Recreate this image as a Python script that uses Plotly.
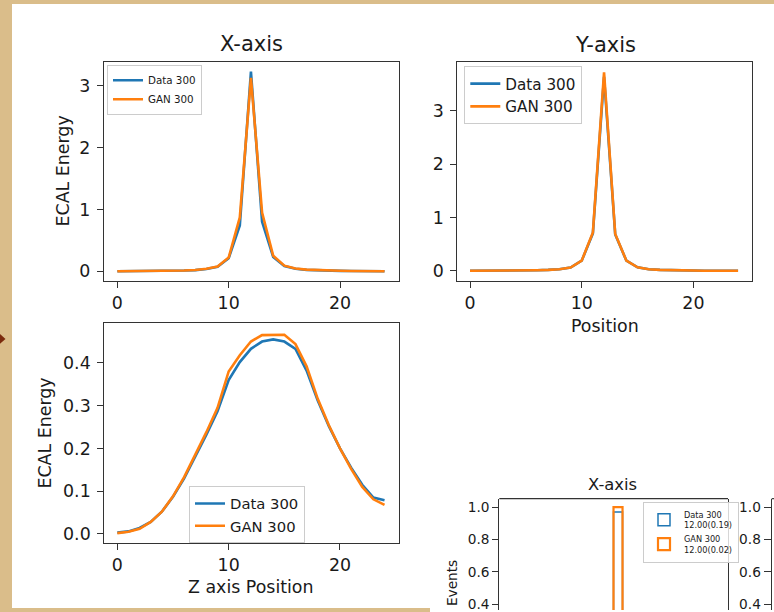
import plotly.graph_objects as go

# ---------------- data ----------------
positions = list(range(25))

data_x = [0.0, 0.0, 0.0, 0.003, 0.005, 0.008, 0.012, 0.018, 0.035, 0.07, 0.21, 0.74,
          3.23, 0.80, 0.23, 0.085, 0.04, 0.022, 0.014, 0.009, 0.006, 0.004, 0.002, 0.001, 0.0]
gan_x = [0.0, 0.0, 0.0, 0.003, 0.005, 0.008, 0.012, 0.02, 0.04, 0.075, 0.22, 0.87,
         3.13, 0.95, 0.25, 0.09, 0.045, 0.025, 0.016, 0.01, 0.007, 0.004, 0.002, 0.001, 0.0]

data_y = [0.0, 0.0, 0.0, 0.002, 0.004, 0.007, 0.011, 0.017, 0.03, 0.06, 0.19, 0.70,
          3.64, 0.68, 0.19, 0.065, 0.03, 0.017, 0.01, 0.006, 0.004, 0.002, 0.001, 0.0, 0.0]
gan_y = [0.0, 0.0, 0.0, 0.002, 0.004, 0.007, 0.011, 0.017, 0.03, 0.062, 0.19, 0.72,
         3.72, 0.69, 0.19, 0.066, 0.03, 0.017, 0.01, 0.006, 0.004, 0.002, 0.001, 0.0, 0.0]

data_z = [0.003, 0.006, 0.014, 0.028, 0.052, 0.087, 0.130, 0.180, 0.232, 0.287, 0.360,
          0.402, 0.433, 0.450, 0.455, 0.450, 0.433, 0.382, 0.312, 0.252, 0.200, 0.155,
          0.115, 0.085, 0.079]
gan_z = [0.002, 0.005, 0.012, 0.028, 0.052, 0.088, 0.133, 0.185, 0.238, 0.295, 0.380,
         0.418, 0.450, 0.465, 0.466, 0.466, 0.444, 0.392, 0.316, 0.254, 0.200, 0.152,
         0.110, 0.081, 0.068]

hist_pos = [12]
data_hist = [0.97]
gan_hist = [1.0]

series_names = ["Data 300", "GAN 300"]
hist_names = ["Data 300<br>12.00(0.19)", "GAN 300<br>12.00(0.02)"]

BLUE = "#1f77b4"
ORANGE = "#ff7f0e"
TAN = "rgb(218,189,138)"
FONT = "DejaVu Sans"
TXT = "#1a1a1a"
FRAME = "#333333"
W, H = 774, 612


def px(x):
    return x / W


def py(y):
    return 1 - y / H


fig = go.Figure()

# line panels
for (a, b, xa, ya, leg) in [(data_x, gan_x, "x", "y", "legend"),
                            (data_y, gan_y, "x2", "y2", "legend2"),
                            (data_z, gan_z, "x3", "y3", "legend3")]:
    fig.add_trace(go.Scatter(x=positions, y=a, mode="lines", name=series_names[0],
                             line=dict(color=BLUE, width=2.6), xaxis=xa, yaxis=ya,
                             legend=leg))
    fig.add_trace(go.Scatter(x=positions, y=b, mode="lines", name=series_names[1],
                             line=dict(color=ORANGE, width=2.6), xaxis=xa, yaxis=ya,
                             legend=leg))

# inset histogram
fig.add_trace(go.Bar(x=hist_pos, y=data_hist, width=1, name=hist_names[0],
                     marker=dict(color="rgba(0,0,0,0)", line=dict(color=BLUE, width=1.5)),
                     xaxis="x4", yaxis="y4", legend="legend4"))
fig.add_trace(go.Bar(x=hist_pos, y=gan_hist, width=1, name=hist_names[1],
                     marker=dict(color="rgba(0,0,0,0)", line=dict(color=ORANGE, width=2.2)),
                     xaxis="x4", yaxis="y4", legend="legend4"))

# cut-off neighbouring panel (its content lies outside the window) – empty placeholder
fig.add_trace(go.Scatter(x=[None], y=[None], mode="lines", showlegend=False,
                         xaxis="x5", yaxis="y5", hoverinfo="skip"))

axis_common = dict(showline=True, linecolor=FRAME, linewidth=1.2, mirror=True,
                   ticks="outside", ticklen=6, tickwidth=1.2, tickcolor=FRAME,
                   showgrid=False, zeroline=False,
                   tickfont=dict(family=FONT, size=17.4, color=TXT))
ystand = dict(ticklabelstandoff=3)

small_tick = dict(family=FONT, size=13.7, color=TXT)

layout = dict(
    width=W, height=H, margin=dict(l=0, r=0, t=0, b=0),
    paper_bgcolor=TAN, plot_bgcolor="white", showlegend=True, barmode="overlay",
    font=dict(family=FONT, color=TXT),
    xaxis=dict(domain=[px(104), px(399)], anchor="y", range=[-1.2, 25.3],
               tickvals=[0, 10, 20], **axis_common),
    yaxis=dict(domain=[py(282), py(62)], anchor="x", range=[-0.16, 3.39],
               tickvals=[0, 1, 2, 3], **axis_common, **ystand),
    xaxis2=dict(domain=[px(457.3), px(751.7)], anchor="y2", range=[-1.14, 25.22],
                tickvals=[0, 10, 20], **axis_common),
    yaxis2=dict(domain=[py(281.7), py(62)], anchor="x2", range=[-0.187, 3.92],
                tickvals=[0, 1, 2, 3], **axis_common, **ystand),
    xaxis3=dict(domain=[px(104.3), px(399)], anchor="y3", range=[-1.17, 25.3],
                tickvals=[0, 10, 20], **axis_common),
    yaxis3=dict(domain=[py(545), py(324.3)], anchor="x3", range=[-0.0217, 0.4928],
                tickvals=[0.0, 0.1, 0.2, 0.3, 0.4], tickformat=".1f", **axis_common, **ystand),
    xaxis4=dict(domain=[px(499.3), px(728)], anchor="y4", range=[-1.17, 24.2],
                visible=False),
    yaxis4=dict(domain=[0, py(500.3)], anchor="x4", range=[0.363, 1.052],
                tickvals=[0.4, 0.6, 0.8, 1.0], tickformat=".1f",
                ticklabeloverflow="allow",
                **{**axis_common, "tickfont": small_tick, "ticklen": 6}),
    xaxis5=dict(domain=[px(771.7), 1.0], anchor="y5", range=[0, 1], visible=False),
    yaxis5=dict(domain=[0, py(500.3)], anchor="x5", range=[0.363, 1.052],
                tickvals=[0.4, 0.6, 0.8, 1.0], tickformat=".1f",
                ticklabeloverflow="allow",
                showline=True, linecolor=FRAME, linewidth=1.2,
                ticks="outside", ticklen=7, tickwidth=1.2, tickcolor=FRAME,
                showgrid=False, zeroline=False, tickfont=small_tick),
)

leg_common = dict(bgcolor="rgba(255,255,255,0.8)", bordercolor="#cccccc", borderwidth=1,
                  xanchor="left", yanchor="top", tracegroupgap=0)
layout["legend"] = dict(x=px(107), y=py(65), font=dict(family=FONT, size=10.3, color=TXT),
                        **leg_common)
layout["legend2"] = dict(x=px(464.3), y=py(66.5), font=dict(family=FONT, size=15.2, color=TXT),
                         **leg_common)
layout["legend3"] = dict(x=px(189), y=py(488), font=dict(family=FONT, size=14.8, color=TXT),
                         **leg_common)
layout["legend4"] = dict(x=px(643), y=py(503.3), font=dict(family=FONT, size=8.2, color=TXT),
                         **leg_common)

fig.update_layout(**layout)

# white page area (single outline: main figure plus the overlapping second figure)
white_path = (f"M {px(12)} {py(4)} L 1 {py(4)} L 1 -0.01 L {px(430)} -0.01 "
              f"L {px(430)} {py(610)} L {px(12)} {py(610)} Z")
fig.add_shape(type="path", xref="paper", yref="paper", path=white_path,
              fillcolor="white", line=dict(width=0), layer="below")
fig.add_shape(type="path", xref="paper", yref="paper",
              path=f"M {px(0)} {py(335)} L {px(5.5)} {py(340)} L {px(0)} {py(345)} Z",
              fillcolor="#7a2a0c", line=dict(width=0), layer="below")

# top edges of the cut-off inset frames
for xr, yr in [("x4 domain", "y4 domain"), ("x5 domain", "y5 domain")]:
    fig.add_shape(type="line", xref=xr, yref=yr, x0=0, x1=1, y0=1, y1=1,
                  line=dict(color=FRAME, width=1.2))


def ann(text, x, y, size, angle=0):
    fig.add_annotation(text=text, x=px(x), y=py(y), xref="paper", yref="paper",
                       showarrow=False, xanchor="center", yanchor="middle",
                       textangle=angle, font=dict(family=FONT, size=size, color=TXT))


ann("X-axis", 251, 44, 21)
ann("Y-axis", 605, 45, 21)
ann("ECAL Energy", 63, 172, 17.4, -90)
ann("ECAL Energy", 45, 435, 17.4, -90)
ann("Position", 604.5, 327, 17.4)
ann("Z axis Position", 251, 589, 17.4)
ann("X-axis", 612.7, 486, 16.4)
ann("Events", 452, 585, 13.7, -90)

fig.write_html("out.html")
